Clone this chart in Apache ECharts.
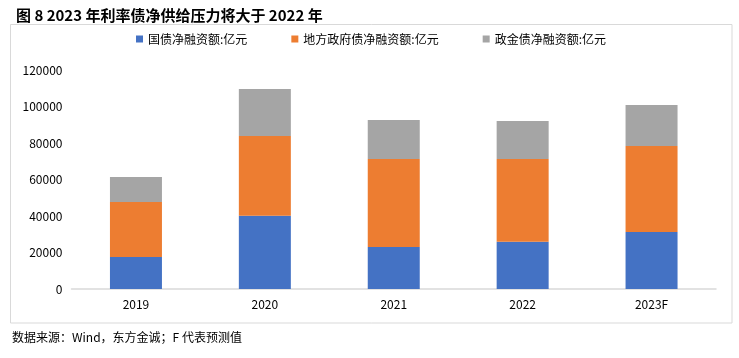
<!DOCTYPE html>
<html>
<head>
<meta charset="utf-8">
<script src="https://cdn.jsdelivr.net/npm/echarts@6/dist/echarts.min.js"></script>
<style>
html,body{margin:0;padding:0;background:#fff;}
#chart{width:739px;height:358px;}
</style>
</head>
<body>
<div id="chart"></div>
<script>
var categories = ['2019', '2020', '2021', '2022', '2023F'];
var treasury = [17500, 40200, 23000, 25900, 31200];
var localGov = [30200, 43700, 48200, 45300, 47200];
var policyBank = [13700, 25700, 21400, 20800, 22400];
var seriesNames = ['国债净融资额:亿元', '地方政府债净融资额:亿元', '政金债净融资额:亿元'];
var yTicks = { min: 0, max: 120000, interval: 20000 };

var FONT = '"Noto Sans CJK SC", "Noto Sans", sans-serif';
var chart = echarts.init(document.getElementById('chart'), null, { renderer: 'canvas' });
function bar(name, data, color) {
  return {
    name: name, type: 'bar', stack: 'total', data: data, barWidth: 52,
    itemStyle: { color: color }, emphasis: { disabled: true }
  };
}
chart.setOption({
  animation: false,
  textStyle: { fontFamily: FONT },
  title: {
    text: '图 8 2023 年利率债净供给压力将大于 2022 年',
    left: 11, top: 3,
    textStyle: { fontSize: 15, fontWeight: 'bold', color: '#000', fontFamily: FONT }
  },
  graphic: [
    { type: 'rect', shape: { x: 10.5, y: 24.5, width: 721.5, height: 298.5 },
      style: { fill: 'none', stroke: '#d9d9d9', lineWidth: 1 }, silent: true, z: -1 },
    { type: 'text', left: 12, top: 331,
      style: { text: '数据来源：Wind，东方金诚；F 代表预测值', font: '12px ' + FONT, fill: '#000' } }
  ],
  legend: {
    left: 131, top: 28,
    itemWidth: 7, itemHeight: 7, itemGap: 44,
    icon: 'rect',
    textStyle: { fontSize: 12, color: '#000', fontFamily: FONT, padding: [0, 0, 0, 0] },
    data: seriesNames
  },
  grid: { left: 71.5, right: 23, top: 70, bottom: 69, containLabel: false },
  xAxis: {
    type: 'category', data: categories,
    axisLine: { lineStyle: { color: '#d9d9d9', width: 1.5 } },
    axisTick: { show: false },
    axisLabel: { color: '#000', fontSize: 12, margin: 9, fontFamily: FONT }
  },
  yAxis: {
    type: 'value', min: yTicks.min, max: yTicks.max, interval: yTicks.interval,
    axisLine: { show: false }, axisTick: { show: false },
    splitLine: { show: false },
    axisLabel: { color: '#000', fontSize: 12, margin: 9, fontFamily: FONT,
      formatter: function (v) { return String(v); } }
  },
  series: [
    bar(seriesNames[0], treasury, '#4472C4'),
    bar(seriesNames[1], localGov, '#ED7D31'),
    bar(seriesNames[2], policyBank, '#A5A5A5')
  ]
});
</script>
</body>
</html>
